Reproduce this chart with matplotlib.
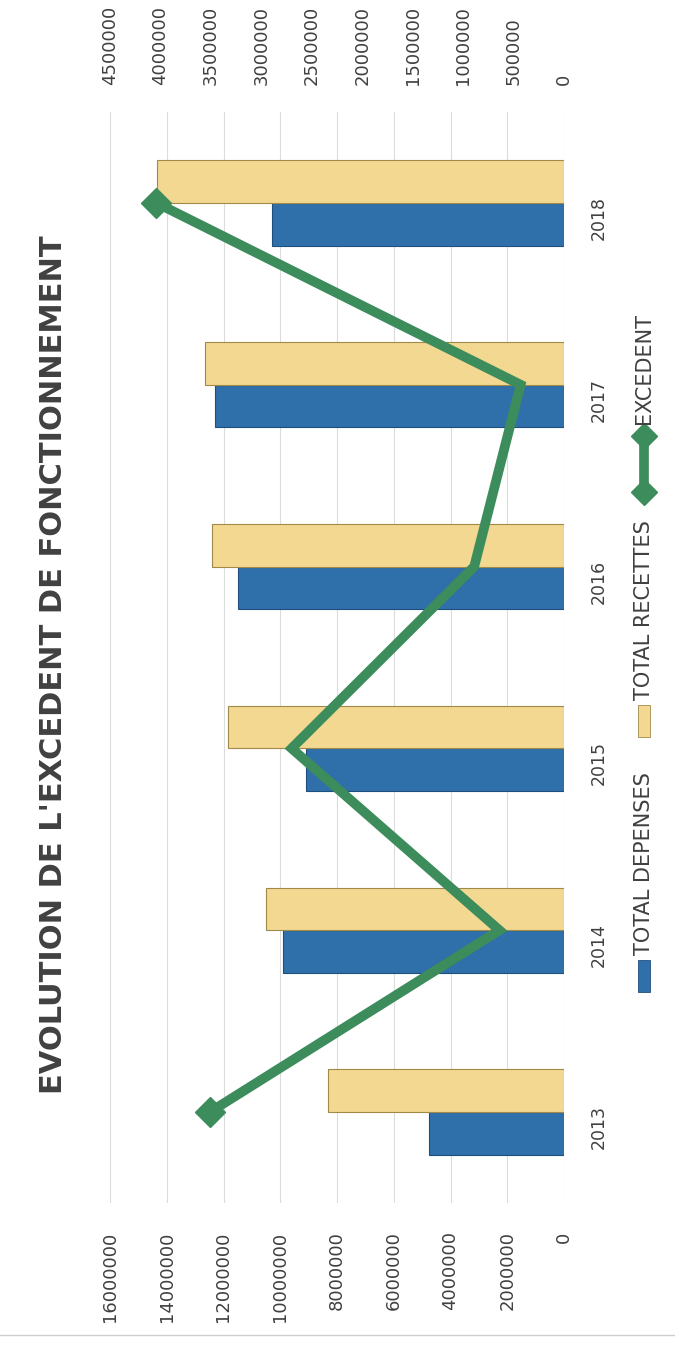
import matplotlib
matplotlib.use("Agg")
import matplotlib.pyplot as plt
from matplotlib.patches import Rectangle
from matplotlib.lines import Line2D

# values
years = ["2013", "2014", "2015", "2016", "2017", "2018"]
total_depenses = [4770000, 9900000, 9100000, 11500000, 12300000, 10300000]
total_recettes = [8300000, 10500000, 11840000, 12400000, 12650000, 14350000]
excedent = [3510000, 640000, 2700000, 890000, 430000, 4040000]
left_ticks = [0, 2000000, 4000000, 6000000, 8000000, 10000000, 12000000, 14000000, 16000000]
right_ticks = [0, 500000, 1000000, 1500000, 2000000, 2500000, 3000000, 3500000, 4000000, 4500000]

W, H = 675, 1347
BLUE = "#2f6faa"
YELLOW = "#f2d890"
GREEN = "#3d8c5c"
TXT = "#404040"
NARROW = ["Liberation Sans Narrow", "DejaVu Sans"]


def fx(px):
    return px / W


def fy(py):
    return 1 - py / H


fig = plt.figure(figsize=(W / 100, H / 100), dpi=100)
fig.patch.set_facecolor("white")

# the chart is drawn turned a quarter turn: categories run bottom to top
ax = fig.add_axes([fx(110), fy(1203), fx(564) - fx(110), fy(112) - fy(1203)])
ax2 = ax.twiny()

pos = list(range(len(years)))
bh = 0.235
ax.barh([p - bh / 2 for p in pos], total_depenses, height=bh, color=BLUE,
        edgecolor="#1f4f7e", linewidth=0.8, zorder=2)
ax.barh([p + bh / 2 for p in pos], total_recettes, height=bh, color=YELLOW,
        edgecolor="#a08a4a", linewidth=0.8, zorder=2)
ax.set_xlim(16000000, 0)
ax.set_ylim(-0.5, len(years) - 0.5)
ax.set_xticks(left_ticks)
ax.set_xticklabels([str(t) for t in left_ticks])
ax.grid(axis="x", color="#dcdcdc", linewidth=0.8, zorder=0)
ax.set_axisbelow(True)
ax.tick_params(axis="x", bottom=False, top=False, labelrotation=90, pad=17,
               labelsize=13, labelcolor=TXT)
ax.yaxis.tick_right()
ax.set_yticks(pos)
ax.set_yticklabels(years, fontfamily=NARROW)
ax.tick_params(axis="y", right=False, left=False, labelrotation=90, pad=15,
               labelsize=12.5, labelcolor=TXT)
for s in ax.spines.values():
    s.set_visible(False)

ax2.plot(excedent, pos, color=GREEN, linewidth=7, marker="D", markersize=15,
         markevery=[0, len(years) - 1], solid_joinstyle="miter", zorder=3)
ax2.set_xlim(4500000, 0)
ax2.set_xticks(right_ticks)
ax2.set_xticklabels([str(t) for t in right_ticks])
ax2.tick_params(axis="x", top=False, bottom=False, labelrotation=90, pad=16,
                labelsize=13, labelcolor=TXT)
for s in ax2.spines.values():
    s.set_visible(False)

# title
fig.text(fx(54), fy(665), "EVOLUTION DE L'EXCEDENT DE FONCTIONNEMENT",
         rotation=90, ha="center", va="center", fontsize=22,
         fontweight="bold", color=TXT)

# legend, turned like the rest
lx = fx(644)
fig.add_artist(Rectangle((fx(638), fy(992)), fx(12), fy(960) - fy(992),
                         transform=fig.transFigure, facecolor=BLUE,
                         edgecolor="#1f4f7e", linewidth=0.6))
fig.text(lx, fy(955), "TOTAL DEPENSES", rotation=90, ha="center", va="bottom",
         fontsize=15, color=TXT, family=NARROW)
fig.add_artist(Rectangle((fx(638), fy(737)), fx(12), fy(705) - fy(737),
                         transform=fig.transFigure, facecolor=YELLOW,
                         edgecolor="#a08a4a", linewidth=0.6))
fig.text(lx, fy(700), "TOTAL RECETTES", rotation=90, ha="center", va="bottom",
         fontsize=15, color=TXT, family=NARROW)
fig.add_artist(Line2D([lx, lx], [fy(492), fy(436)], transform=fig.transFigure,
                      color=GREEN, linewidth=7, marker="D", markersize=13))
fig.text(lx, fy(424), "EXCEDENT", rotation=90, ha="center", va="bottom",
         fontsize=15, color=TXT, family=NARROW)

# bottom edge of the chart frame
fig.add_artist(Line2D([0, 1], [fy(1335), fy(1335)], transform=fig.transFigure,
                      color="#d0d0d0", linewidth=1))

fig.savefig("out.png", dpi=100, facecolor="white")
